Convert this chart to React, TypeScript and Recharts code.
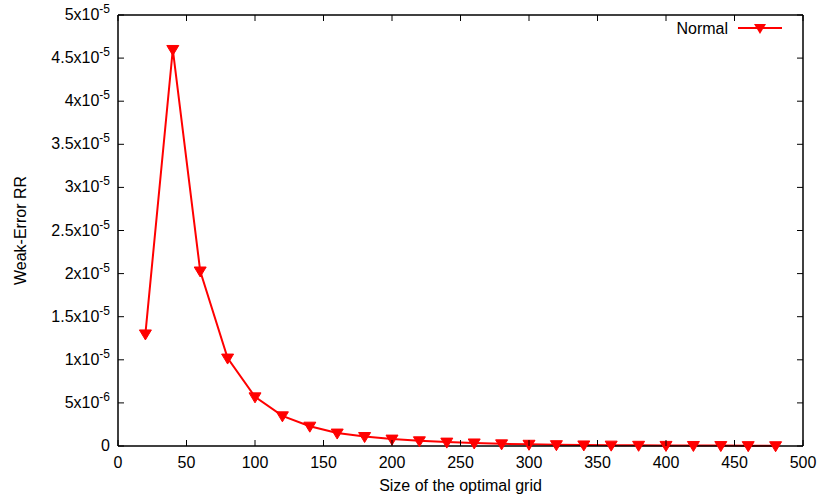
import React from 'react'
import { LineChart, Line, XAxis, YAxis } from 'recharts'

const gridSizes = [20, 40, 60, 80, 100, 120, 140, 160, 180, 200, 220, 240, 260, 280, 300, 320, 340, 360, 380, 400, 420, 440, 460, 480]
const weakErrorRR = [
  1.3e-5, 4.6e-5, 2.03e-5, 1.02e-5, 5.7e-6, 3.5e-6, 2.3e-6, 1.5e-6, 1.1e-6, 8e-7,
  6e-7, 4.5e-7, 3.5e-7, 2.5e-7, 2e-7, 1.5e-7, 1.2e-7, 1e-7, 8e-8, 7e-8,
  6e-8, 5e-8, 4e-8, 3e-8,
]
const xTicks = [0, 50, 100, 150, 200, 250, 300, 350, 400, 450, 500]
const yTicks = [0, 5e-6, 1e-5, 1.5e-5, 2e-5, 2.5e-5, 3e-5, 3.5e-5, 4e-5, 4.5e-5, 5e-5]
const seriesName = 'Normal'

const data = gridSizes.map((n, i) => ({ n, rr: weakErrorRR[i] }))

const RED = '#ff0000'
const FONT = '"Liberation Sans", Arial, sans-serif'
const FS = 16
const TICK_LEN = 6

function sciParts(v: number) {
  if (v === 0) return null
  const [m, e] = v.toExponential().split('e')
  return { m, e: String(parseInt(e, 10)) }
}

function BottomTick({ x, y, payload }: any) {
  return (
    <g>
      <line x1={x} y1={y} x2={x} y2={y - TICK_LEN} stroke="#000" strokeWidth={1} />
      <text x={x} y={y + 22} textAnchor="middle" fontSize={FS} fontFamily={FONT} fill="#000">
        {payload.value}
      </text>
    </g>
  )
}

// mirrored ticks, top border (y is the border line)
function TopTick({ x, y }: any) {
  return <line x1={x} y1={y} x2={x} y2={y + TICK_LEN} stroke="#000" strokeWidth={1} />
}

function LeftTick({ x, y, payload }: any) {
  const p = sciParts(payload.value)
  return (
    <g>
      <line x1={x} y1={y} x2={x + TICK_LEN} y2={y} stroke="#000" strokeWidth={1} />
      <text x={x - 8} y={y + 5} textAnchor="end" fontSize={FS} fontFamily={FONT} fill="#000">
        {p ? (
          <>
            <tspan>{p.m}x10</tspan>
            <tspan dy={-7} fontSize={12}>{p.e}</tspan>
          </>
        ) : (
          '0'
        )}
      </text>
    </g>
  )
}

function RightTick({ x, y }: any) {
  return <line x1={x} y1={y} x2={x - TICK_LEN} y2={y} stroke="#000" strokeWidth={1} />
}

function TriangleDot({ cx, cy, index }: any) {
  if (cx == null || cy == null) return <g key={index} />
  return (
    <path
      key={index}
      d={`M${cx - 6},${cy - 4}L${cx + 6},${cy - 4}L${cx},${cy + 6}Z`}
      fill={RED}
      stroke={RED}
      strokeWidth={1}
    />
  )
}

function XTitle({ viewBox }: any) {
  const { x, y, width } = viewBox
  return (
    <text x={x + width / 2} y={y + 45} textAnchor="middle" fontSize={FS} fontFamily={FONT} fill="#000">
      Size of the optimal grid
    </text>
  )
}

function YTitle({ viewBox }: any) {
  const { x, y, height } = viewBox
  const cx = x + 26
  const cy = y + height / 2
  return (
    <text
      x={cx}
      y={cy}
      transform={`rotate(-90, ${cx}, ${cy})`}
      textAnchor="middle"
      fontSize={FS}
      fontFamily={FONT}
      fill="#000"
    >
      Weak-Error RR
    </text>
  )
}

export default function App() {
  return (
    <div style={{ position: 'absolute', left: 0, top: 0, width: 830, height: 498, background: '#fff' }}>
      <LineChart width={830} height={498} data={data} margin={{ top: 14, right: 26, left: 0, bottom: 0 }}>
        <XAxis
          xAxisId="b"
          dataKey="n"
          type="number"
          domain={[0, 500]}
          ticks={xTicks}
          height={52}
          tickSize={0}
          tickMargin={0}
          tickLine={false}
          axisLine={{ stroke: '#000', strokeWidth: 1.5 }}
          tick={<BottomTick />}
          interval={0}
          label={<XTitle />}
        />
        <XAxis
          xAxisId="t"
          orientation="top"
          dataKey="n"
          type="number"
          domain={[0, 500]}
          ticks={xTicks}
          height={1}
          tickSize={0}
          tickMargin={0}
          tickLine={false}
          axisLine={{ stroke: '#000', strokeWidth: 1.5 }}
          tick={<TopTick />}
          interval={0}
        />
        <YAxis
          yAxisId="l"
          type="number"
          domain={[0, 5e-5]}
          ticks={yTicks}
          width={118}
          tickSize={0}
          tickMargin={0}
          tickLine={false}
          axisLine={{ stroke: '#000', strokeWidth: 1.5 }}
          tick={<LeftTick />}
          interval={0}
          label={<YTitle />}
        />
        <YAxis
          yAxisId="r"
          orientation="right"
          type="number"
          domain={[0, 5e-5]}
          ticks={yTicks}
          width={1}
          tickSize={0}
          tickMargin={0}
          tickLine={false}
          axisLine={{ stroke: '#000', strokeWidth: 1.5 }}
          tick={<RightTick />}
          interval={0}
        />
        {/* invisible copy so the mirror axes are bound to data */}
        <Line
          xAxisId="t"
          yAxisId="r"
          dataKey="rr"
          stroke="none"
          dot={false}
          activeDot={false}
          legendType="none"
          isAnimationActive={false}
        />
        <Line
          xAxisId="b"
          yAxisId="l"
          dataKey="rr"
          name={seriesName}
          stroke={RED}
          strokeWidth={2}
          dot={TriangleDot}
          activeDot={false}
          isAnimationActive={false}
        />
      </LineChart>
      <svg width={830} height={498} style={{ position: 'absolute', left: 0, top: 0, pointerEvents: 'none' }}>
        <text x={728} y={34} textAnchor="end" fontSize={FS} fontFamily={FONT} fill="#000">
          {seriesName}
        </text>
        <line x1={738} y1={28} x2={782} y2={28} stroke={RED} strokeWidth={2} />
        <path d="M754,24L766,24L760,34Z" fill={RED} />
      </svg>
    </div>
  )
}
